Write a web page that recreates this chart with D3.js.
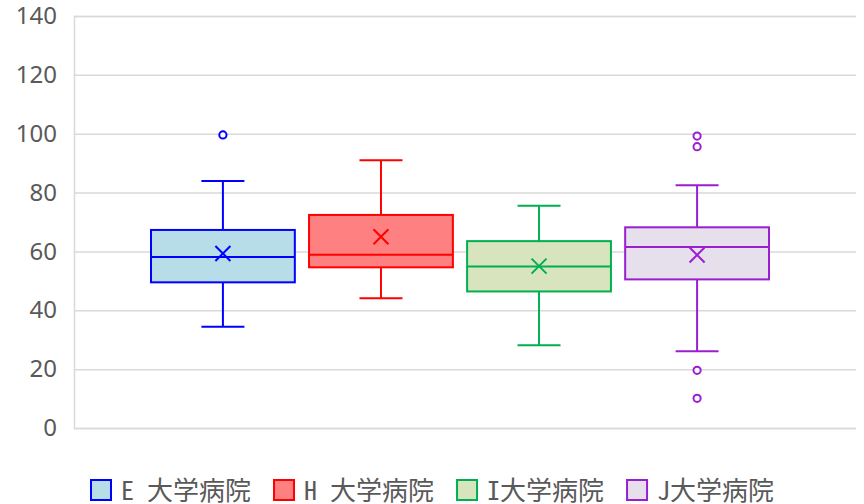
<!DOCTYPE html>
<html><head><meta charset="utf-8">
<script src="https://cdn.jsdelivr.net/npm/d3@7"></script>
<style>
html,body{margin:0;padding:0;background:#fff;}
svg{display:block;font-family:"Noto Sans","Noto Sans CJK JP",sans-serif;}
</style></head>
<body>
<svg id="chart" width="864" height="504"></svg>
<script>
// ---- data ----
const seriesNames = ["E 大学病院", "H 大学病院", "I大学病院", "J大学病院"];
const whiskerLow  = [34.4, 44.1, 28.1, 26.1];
const q1          = [49.5, 54.6, 46.4, 50.5];
const median      = [58.1, 58.9, 54.9, 61.5];
const q3          = [67.3, 72.4, 63.5, 68.2];
const whiskerHigh = [83.9, 91.0, 75.5, 82.5];
const means       = [59.3, 65.0, 55.0, 58.8];
const outliers    = [[99.6], [], [], [99.2, 95.6, 19.6, 10.1]];
const yTicks      = [0, 20, 40, 60, 80, 100, 120, 140];
const fills   = ["#b7dde8", "#ff8080", "#d7e4bd", "#e6e0ec"];
const strokes = ["#0000ff", "#ff0000", "#00b050", "#9b1fd1"];

// ---- layout ----
const svg = d3.select("#chart");
const plot = {left: 74, right: 856, top: 16, bottom: 428};
const y = d3.scaleLinear().domain([0, 140]).range([plot.bottom, plot.top]);
const x = d3.scaleBand().domain(seriesNames).range([151, 769]).paddingInner(0.09).paddingOuter(0);

// gridlines
const yAxis = d3.axisLeft(y).tickValues(yTicks).tickSize(-(plot.right - plot.left)).tickPadding(17).tickFormat(d3.format("d"));
const ga = svg.append("g").attr("transform", `translate(${plot.left},0)`).call(yAxis);
ga.select(".domain").attr("stroke", "#d9d9d9").attr("stroke-width", 1.5);
ga.selectAll(".tick line").attr("stroke", "#d9d9d9").attr("stroke-width", 1.5);
ga.selectAll(".tick text").attr("fill", "#595959").style("font-size", "24px")
  .style("font-family", '"Noto Sans",sans-serif');

const data = seriesNames.map((n, i) => ({
  name: n, lo: whiskerLow[i], q1: q1[i], med: median[i], q3: q3[i], hi: whiskerHigh[i],
  mean: means[i], out: outliers[i], fill: fills[i], stroke: strokes[i]
}));

const g = svg.append("g");
const bw = x.bandwidth();
const cap = 21.5;
data.forEach(d => {
  const cx = x(d.name) + bw / 2;
  const s = g.append("g").attr("stroke", d.stroke).attr("stroke-width", 2).attr("fill", "none");
  // whiskers
  s.append("line").attr("x1", cx).attr("x2", cx).attr("y1", y(d.hi)).attr("y2", y(d.q3));
  s.append("line").attr("x1", cx).attr("x2", cx).attr("y1", y(d.q1)).attr("y2", y(d.lo));
  s.append("line").attr("x1", cx - cap).attr("x2", cx + cap).attr("y1", y(d.hi)).attr("y2", y(d.hi));
  s.append("line").attr("x1", cx - cap).attr("x2", cx + cap).attr("y1", y(d.lo)).attr("y2", y(d.lo));
  // box
  s.append("rect").attr("x", x(d.name)).attr("width", bw)
    .attr("y", y(d.q3)).attr("height", y(d.q1) - y(d.q3)).attr("fill", d.fill);
  s.append("line").attr("x1", x(d.name)).attr("x2", x(d.name) + bw).attr("y1", y(d.med)).attr("y2", y(d.med));
  // mean X
  const my = y(d.mean), m = 7.5;
  s.append("path").attr("d", `M${cx - m},${my - m}L${cx + m},${my + m}M${cx - m},${my + m}L${cx + m},${my - m}`);
  // outliers
  d.out.forEach(v => {
    s.append("circle").attr("cx", cx).attr("cy", y(v)).attr("r", 3.6).attr("fill", "#fff");
  });
});

// legend
const leg = svg.append("g");
let lx = 91;
data.forEach(d => {
  const it = leg.append("g");
  it.append("rect").attr("x", lx).attr("y", 480).attr("width", 20).attr("height", 20)
    .attr("fill", d.fill).attr("stroke", d.stroke).attr("stroke-width", 2);
  const t = it.append("text").attr("x", lx + 30).attr("y", 500).attr("fill", "#595959")
    .style("font-size", "26px")
    .style("font-feature-settings", '"hwid" 1')
    .style("font-family", '"Noto Sans CJK JP",sans-serif').text(d.name);
  lx = lx + 30 + t.node().getComputedTextLength() + 23;
});
</script>
</body></html>
